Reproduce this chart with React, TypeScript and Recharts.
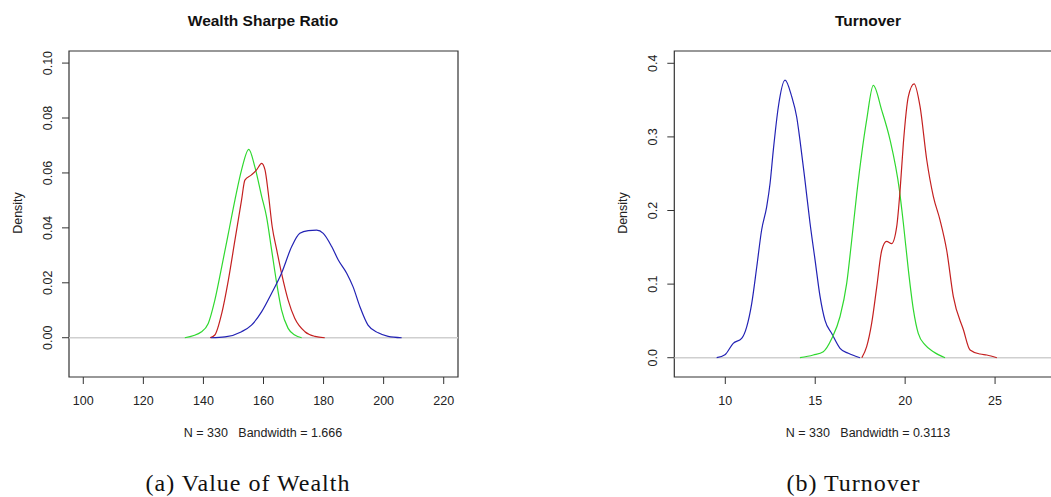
import React from "react"
import { LineChart, Line, XAxis, YAxis, ReferenceArea, ReferenceLine } from "recharts"

// Wealth Sharpe Ratio densities (x value, density)
const wealthGreenX = [133.8, 139.4, 141.6, 143.8, 146.1, 148.3, 150.5, 152.7, 155.1, 157.1, 159.4, 161.0, 162.7, 164.4, 166.0, 168.2, 170.4, 172.7]
const wealthGreenY = [0, 0.0022, 0.0052, 0.0137, 0.0259, 0.038, 0.0502, 0.0611, 0.0686, 0.0623, 0.0514, 0.0441, 0.032, 0.0198, 0.0101, 0.0034, 0.001, 0]
const wealthRedX = [142.2, 143.8, 146.1, 148.3, 150.5, 152.7, 153.8, 156.0, 157.7, 159.4, 160.5, 161.6, 162.9, 164.4, 166.0, 168.2, 170.4, 173.8, 177.1, 180.4]
const wealthRedY = [0, 0.001, 0.0089, 0.021, 0.0356, 0.0502, 0.0574, 0.0593, 0.0611, 0.0635, 0.0611, 0.0526, 0.0404, 0.032, 0.0235, 0.0137, 0.0071, 0.0022, 0.0005, 0]
const wealthBlueX = [142.5, 147.2, 152.7, 156.0, 159.4, 162.7, 166.0, 169.4, 172.1, 174.9, 177.7, 179.9, 182.7, 184.9, 187.7, 189.8, 192.1, 194.8, 198.2, 201.5, 206.0]
const wealthBlueY = [0, 0.0003, 0.0022, 0.0046, 0.0095, 0.0162, 0.0235, 0.0332, 0.038, 0.039, 0.0392, 0.038, 0.0332, 0.0283, 0.0235, 0.0186, 0.0113, 0.0046, 0.0018, 0.0005, 0]

// Turnover densities
const turnBlueX = [9.52, 9.98, 10.44, 10.91, 11.19, 11.47, 11.75, 12.02, 12.3, 12.49, 12.67, 12.95, 13.32, 13.69, 13.97, 14.15, 14.43, 14.71, 14.99, 15.27, 15.54, 15.92, 16.38, 16.84, 17.49]
const turnBlueY = [0, 0.004, 0.0195, 0.0263, 0.042, 0.0739, 0.1236, 0.1735, 0.205, 0.237, 0.282, 0.341, 0.377, 0.355, 0.327, 0.296, 0.241, 0.183, 0.133, 0.083, 0.051, 0.033, 0.0128, 0.006, 0]
const turnGreenX = [14.15, 14.89, 15.45, 15.92, 16.38, 16.75, 17.03, 17.31, 17.59, 17.86, 18.23, 18.7, 19.16, 19.68, 19.9, 20.18, 20.46, 20.73, 21.11, 21.57, 22.22]
const turnGreenY = [0, 0.0037, 0.0082, 0.026, 0.056, 0.101, 0.16, 0.223, 0.278, 0.323, 0.37, 0.336, 0.296, 0.228, 0.183, 0.119, 0.065, 0.033, 0.0173, 0.0082, 0]
const turnRedX = [17.59, 17.86, 18.14, 18.42, 18.7, 18.97, 19.25, 19.53, 19.72, 19.9, 20.18, 20.5, 20.83, 21.2, 21.57, 21.94, 22.31, 22.68, 23.24, 23.61, 24.17, 24.54, 25.1]
const turnRedY = [0, 0.015, 0.047, 0.096, 0.146, 0.158, 0.155, 0.178, 0.228, 0.291, 0.355, 0.372, 0.341, 0.269, 0.219, 0.187, 0.146, 0.083, 0.038, 0.0105, 0.005, 0.0037, 0]

// ticks
const wealthXTicks = [100, 120, 140, 160, 180, 200, 220]
const wealthYTicks = [0, 0.02, 0.04, 0.06, 0.08, 0.1]
const turnXTicks = [10, 15, 20, 25]
const turnYTicks = [0, 0.1, 0.2, 0.3, 0.4]

const GREEN = "#2fd82f"
const RED = "#c42020"
const BLUE = "#2222b4"
const SANS = "'Liberation Sans', Arial, sans-serif"

const toPoints = (xs: number[], ys: number[]) => xs.map((x, i) => ({ x, d: ys[i] }))

const XTick = (props: any) => (
  <text x={props.x} y={405} textAnchor="middle" fontSize={12.5} fontFamily={SANS} fill="#222">
    {props.payload.value}
  </text>
)

const makeYTick = (baseX: number, digits: number) => (props: any) => (
  <text
    x={baseX}
    y={props.y}
    transform={`rotate(-90, ${baseX}, ${props.y})`}
    textAnchor="middle"
    fontSize={12.5}
    fontFamily={SANS}
    fill="#222"
  >
    {Number(props.payload.value).toFixed(digits)}
  </text>
)

interface PanelProps {
  left: number
  width: number
  margin: { top: number; right: number; bottom: number; left: number }
  xDomain: [number, number]
  yDomain: [number, number]
  xTicks: number[]
  yTicks: number[]
  yTick: (p: any) => React.ReactElement
  series: { pts: { x: number; d: number }[]; color: string }[]
}

function Panel({ left, width, margin, xDomain, yDomain, xTicks, yTicks, yTick, series }: PanelProps) {
  return (
    <div style={{ position: "absolute", left, top: 0 }}>
      <LineChart width={width} height={497} margin={margin}>
        <XAxis
          type="number"
          dataKey="x"
          domain={xDomain}
          ticks={xTicks}
          allowDataOverflow
          height={30}
          tickSize={7}
          axisLine={false}
          tickLine={{ stroke: "#333" }}
          tick={XTick}
        />
        <YAxis
          type="number"
          dataKey="d"
          domain={yDomain}
          ticks={yTicks}
          allowDataOverflow
          width={40}
          tickSize={7}
          axisLine={false}
          tickLine={{ stroke: "#333" }}
          tick={yTick}
        />
        <ReferenceLine y={0} stroke="#cfcfcf" strokeWidth={1.5} />
        <ReferenceArea
          x1={xDomain[0]}
          x2={xDomain[1]}
          y1={yDomain[0]}
          y2={yDomain[1]}
          fill="none"
          fillOpacity={0}
          stroke="#333"
          strokeWidth={1.2}
        />
        {series.map((s, i) => (
          <Line
            key={i}
            data={s.pts}
            dataKey="d"
            type="monotone"
            stroke={s.color}
            strokeWidth={1.2}
            dot={false}
            isAnimationActive={false}
          />
        ))}
      </LineChart>
    </div>
  )
}

export default function App() {
  const wealthSeries = [
    { pts: toPoints(wealthGreenX, wealthGreenY), color: GREEN },
    { pts: toPoints(wealthRedX, wealthRedY), color: RED },
    { pts: toPoints(wealthBlueX, wealthBlueY), color: BLUE },
  ]
  const turnSeries = [
    { pts: toPoints(turnBlueX, turnBlueY), color: BLUE },
    { pts: toPoints(turnGreenX, turnGreenY), color: GREEN },
    { pts: toPoints(turnRedX, turnRedY), color: RED },
  ]

  return (
    <div style={{ position: "absolute", left: 0, top: 0, width: 1051, height: 497, overflow: "hidden", background: "#fff" }}>
      <Panel
        left={0}
        width={525}
        margin={{ top: 51, right: 67, bottom: 90, left: 29 }}
        xDomain={[95.24, 224.76]}
        yDomain={[-0.0143, 0.1044]}
        xTicks={wealthXTicks}
        yTicks={wealthYTicks}
        yTick={makeYTick(51.7, 2)}
        series={wealthSeries}
      />
      <Panel
        left={560}
        width={512}
        margin={{ top: 51, right: 5, bottom: 90, left: 74.3 }}
        xDomain={[7.164, 29]}
        yDomain={[-0.0262, 0.4167]}
        xTicks={turnXTicks}
        yTicks={turnYTicks}
        yTick={makeYTick(96.7, 1)}
        series={turnSeries}
      />
      <svg width={1051} height={497} style={{ position: "absolute", left: 0, top: 0, pointerEvents: "none" }}>
        <g fontFamily={SANS} fill="#111">
          <text x={263} y={26} textAnchor="middle" fontSize={15.5} fontWeight="bold">Wealth Sharpe Ratio</text>
          <text x={868} y={26} textAnchor="middle" fontSize={15.5} fontWeight="bold">Turnover</text>
          <text x={263} y={436.5} textAnchor="middle" fontSize={12.5} fill="#222" xmlSpace="preserve">N = 330   Bandwidth = 1.666</text>
          <text x={868} y={436.5} textAnchor="middle" fontSize={12.5} fill="#222" xmlSpace="preserve">N = 330   Bandwidth = 0.3113</text>
          <text x={21.5} y={213} transform="rotate(-90, 21.5, 213)" textAnchor="middle" fontSize={12.5} fill="#222">Density</text>
          <text x={626.7} y={213} transform="rotate(-90, 626.7, 213)" textAnchor="middle" fontSize={12.5} fill="#222">Density</text>
        </g>
        <g fontFamily="'Liberation Serif', 'Times New Roman', serif" fill="#111" fontSize={24} letterSpacing={1}>
          <text x={248} y={491} textAnchor="middle">(a) Value of Wealth</text>
          <text x={853.5} y={491} textAnchor="middle">(b) Turnover</text>
        </g>
      </svg>
    </div>
  )
}
